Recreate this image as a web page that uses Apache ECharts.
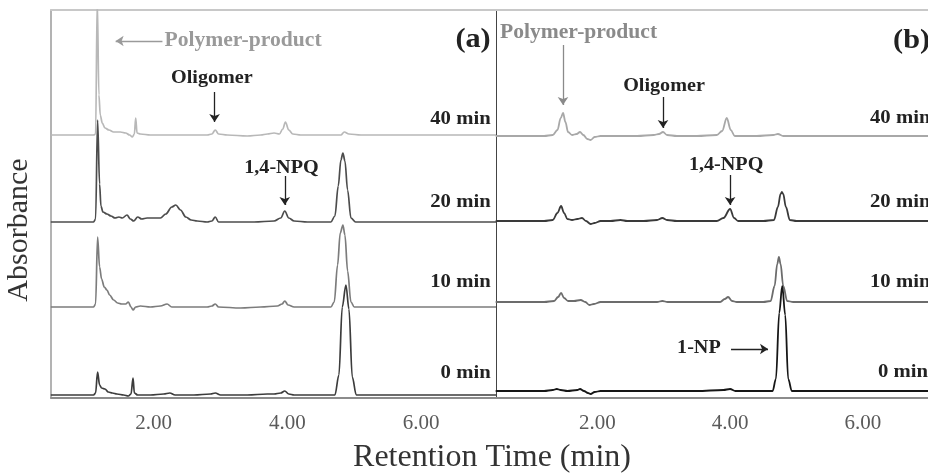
<!DOCTYPE html>
<html>
<head>
<meta charset="utf-8">
<title>HPLC chromatograms</title>
<script src="https://cdn.jsdelivr.net/npm/echarts@6.0.0/dist/echarts.min.js"></script>
<style>
  html, body { margin: 0; padding: 0; background: #fff; }
  #chart { width: 928px; height: 473px; }
</style>
</head>
<body>
<div id="chart"></div>
<script>
// sampling times, bottom trace first
const sampleTimes = ['0 min', '10 min', '20 min', '40 min'];
const tickValues = [2, 4, 6];

// vertical offset of each trace (arbitrary absorbance units)
const offsetsA = [3, 91, 176, 263];
const offsetsB = [7, 96, 177, 262];

// panel (a): [retention time (min), absorbance above own baseline]
const a0 = [[0.46,0],[0.80,0],[1.10,0],[1.13,2],[1.16,23],[1.19,10],[1.22,7],[1.27,6],[1.32,3],[1.38,2],[1.45,1],[1.55,0],[1.62,-1],[1.66,1],[1.69,17],[1.71,2],[1.76,0],[1.95,0],[2.15,1],[2.24,2],[2.32,0],[2.60,0],[2.85,1],[2.92,2],[3.00,0],[3.40,0],[3.70,1],[3.80,1],[3.90,2],[3.96,4],[4.02,1],[4.10,0],[4.50,0],[4.71,0],[4.77,20],[4.82,88],[4.875,110],[4.92,86],[4.97,18],[5.03,0],[5.20,0],[6.00,0],[7.12,0]];
const a10 = [[0.46,0],[0.80,0],[1.10,0],[1.13,3],[1.16,70],[1.19,40],[1.22,28],[1.26,20],[1.30,17],[1.34,12],[1.40,7],[1.46,4],[1.52,3],[1.58,3],[1.62,5],[1.66,0],[1.69,-3],[1.73,0],[1.80,1],[1.95,0],[2.10,1],[2.20,3],[2.27,0],[2.50,0],[2.80,0],[2.87,1],[2.92,3],[2.97,0],[3.30,-1],[3.60,0],[3.85,1],[3.92,3],[3.96,6],[4.01,2],[4.10,0],[4.40,0],[4.65,0],[4.70,5],[4.75,42],[4.79,74],[4.83,82],[4.86,72],[4.90,36],[4.95,5],[5.00,0],[5.40,0],[6.00,0],[7.12,0]];
const a20 = [[0.46,0],[0.80,0],[1.10,0],[1.13,3],[1.16,102],[1.19,38],[1.21,16],[1.24,10],[1.30,8],[1.36,6],[1.42,4],[1.48,5],[1.53,4],[1.60,7],[1.65,3],[1.70,1],[1.76,5],[1.82,3],[1.90,4],[2.00,4],[2.10,4],[2.18,8],[2.27,15],[2.33,17],[2.40,12],[2.48,5],[2.56,2],[2.65,1],[2.80,0],[2.87,1],[2.92,5],[2.97,0],[3.20,0],[3.50,0],[3.80,1],[3.90,4],[3.96,11],[4.02,4],[4.10,1],[4.30,0],[4.65,0],[4.71,6],[4.76,36],[4.80,62],[4.83,69],[4.86,61],[4.90,32],[4.95,4],[5.02,0],[5.40,0],[6.00,0],[7.12,0]];
const a40 = [[0.46,0],[0.80,0],[1.10,0],[1.13,1],[1.155,135],[1.18,40],[1.20,20],[1.23,12],[1.27,7],[1.33,5],[1.40,3],[1.50,3],[1.58,2],[1.64,0],[1.68,-2],[1.71,1],[1.73,17],[1.75,2],[1.80,1],[1.95,0],[2.20,0],[2.50,0],[2.80,0],[2.87,1],[2.92,5],[2.97,1],[3.10,0],[3.40,-1],[3.60,0],[3.70,1],[3.80,2],[3.88,1],[3.93,6],[3.97,13],[4.02,5],[4.08,1],[4.20,0],[4.50,0],[4.80,0],[4.85,3],[4.92,1],[5.10,0],[5.60,0],[6.20,0],[7.12,0]];

// panel (b)
const b0 = [[0.47,0],[0.90,0],[1.20,0],[1.33,1],[1.39,2],[1.45,1],[1.55,0],[1.70,1],[1.74,2],[1.80,0],[1.86,-2],[1.90,-3],[1.96,-1],[2.05,0],[2.50,0],[3.00,0],[3.50,0],[3.90,1],[4.00,2],[4.08,0],[4.50,0],[4.64,0],[4.69,12],[4.74,78],[4.785,105],[4.83,76],[4.875,12],[4.93,0],[5.00,0],[6.00,0],[6.98,0]];
const b10 = [[0.47,0],[0.90,0],[1.20,0],[1.35,1],[1.41,5],[1.455,9],[1.50,4],[1.56,1],[1.65,1],[1.75,2],[1.82,0],[1.88,-3],[1.95,-2],[2.05,0],[2.40,0],[2.90,0],[2.98,1],[3.06,0],[3.50,0],[3.85,0],[3.92,3],[3.97,5],[4.03,1],[4.10,0],[4.50,0],[4.61,1],[4.67,16],[4.71,38],[4.735,45],[4.76,38],[4.80,16],[4.86,1],[4.95,0],[6.00,0],[6.98,0]];
const b20 = [[0.47,0],[0.90,0],[1.20,0],[1.33,1],[1.40,8],[1.455,15],[1.50,8],[1.55,2],[1.62,1],[1.70,2],[1.77,3],[1.83,0],[1.90,-3],[1.96,-2],[2.05,0],[2.20,0],[2.35,1],[2.45,0],[2.70,0],[2.90,1],[2.98,3],[3.05,1],[3.20,0],[3.50,0],[3.80,0],[3.90,3],[4.00,12],[4.06,3],[4.12,0],[4.50,0],[4.66,1],[4.72,14],[4.76,27],[4.78,29],[4.80,27],[4.84,14],[4.90,1],[5.00,0],[6.00,0],[6.98,0]];
const b40 = [[0.47,0],[0.90,0],[1.20,0],[1.33,1],[1.40,6],[1.45,18],[1.485,23],[1.52,14],[1.56,4],[1.62,1],[1.69,2],[1.74,4],[1.79,1],[1.85,-3],[1.90,-4],[1.96,-1],[2.05,0],[2.30,0],[2.60,0],[2.85,1],[2.93,2],[2.99,4],[3.05,1],[3.20,0],[3.50,0],[3.80,1],[3.88,5],[3.95,18],[4.01,6],[4.07,0],[4.40,0],[4.65,1],[4.72,2],[4.80,0],[5.20,0],[6.00,0],[6.98,0]];

const tracesA = [a0, a10, a20, a40];
const tracesB = [b0, b10, b20, b40];

const colorsA = ['#3c3c3c', '#7c7c7c', '#4c4c4c', '#b8b8b8'];
const colorsB = ['#161616', '#6c6c6c', '#3a3a3a', '#a8a8a8'];

const serif = '"Liberation Serif", "Times New Roman", serif';

// annotations, anchored in data coordinates
const arrowsA = [
  { from: [2.13, 357], to: [1.43, 357], color: '#9a9a9a' },
  { from: [2.91, 306], to: [2.91, 276], color: '#222' },
  { from: [3.96, 222], to: [3.96, 193], color: '#222' }
];
const arrowsB = [
  { from: [1.484, 353], to: [1.484, 293], color: '#8a8a8a' },
  { from: [2.99, 301], to: [2.99, 270], color: '#222' },
  { from: [4.0, 223], to: [4.0, 193], color: '#222' },
  { from: [4.014, 49], to: [4.571, 49], color: '#222' }
];
const notesA = [
  { text: 'Polymer-product', at: [2.16, 357], align: 'left', size: 20, stretch: 1.08, color: '#9a9a9a' },
  { text: '(a)', at: [7.04, 358], align: 'right', size: 27, stretch: 1.12, color: '#222' },
  { text: 'Oligomer', at: [2.87, 320], align: 'center', size: 18, stretch: 1.12, color: '#222' },
  { text: '1,4-NPQ', at: [3.91, 230], align: 'center', size: 18, stretch: 1.12, color: '#222' },
  { text: '40 min', at: [7.04, 279], align: 'right', size: 18, stretch: 1.15, color: '#222' },
  { text: '20 min', at: [7.04, 196], align: 'right', size: 18, stretch: 1.15, color: '#222' },
  { text: '10 min', at: [7.04, 116], align: 'right', size: 18, stretch: 1.15, color: '#222' },
  { text: '0 min', at: [7.04, 25], align: 'right', size: 18, stretch: 1.15, color: '#222' }
];
const notesB = [
  { text: 'Polymer-product', at: [0.535, 365], align: 'left', size: 20, stretch: 1.08, color: '#8a8a8a' },
  { text: '(b)', at: [6.454, 357], align: 'left', size: 27, stretch: 1.12, color: '#222' },
  { text: 'Oligomer', at: [3.005, 312], align: 'center', size: 18, stretch: 1.12, color: '#222' },
  { text: '1,4-NPQ', at: [3.94, 233], align: 'center', size: 18, stretch: 1.12, color: '#222' },
  { text: '40 min', at: [6.107, 280], align: 'left', size: 18, stretch: 1.15, color: '#222' },
  { text: '20 min', at: [6.107, 196], align: 'left', size: 18, stretch: 1.15, color: '#222' },
  { text: '10 min', at: [6.107, 116], align: 'left', size: 18, stretch: 1.15, color: '#222' },
  { text: '0 min', at: [6.228, 26], align: 'left', size: 18, stretch: 1.15, color: '#222' },
  { text: '1-NP', at: [3.53, 50], align: 'center', size: 18, stretch: 1.12, color: '#222' }
];

const chart = echarts.init(document.getElementById('chart'));

function bottomAxis(grid, min, max) {
  return {
    gridIndex: grid, type: 'value', min: min, max: max, position: 'bottom',
    axisLine: { show: true, onZero: false, lineStyle: { color: '#8c8c8c', width: 2 } },
    axisTick: { show: false },
    splitLine: { show: false },
    axisLabel: {
      customValues: tickValues,
      formatter: v => v.toFixed(2),
      fontFamily: serif, fontSize: 21, color: '#5a5a5a', margin: 15
    }
  };
}
function topAxis(grid, min, max) {
  return {
    gridIndex: grid, type: 'value', min: min, max: max, position: 'top',
    axisLine: { show: true, onZero: false, lineStyle: { color: '#c8c8c8', width: 2 } },
    axisTick: { show: false }, axisLabel: { show: false }, splitLine: { show: false }
  };
}
function leftAxis(grid, color, width) {
  return {
    gridIndex: grid, type: 'value', min: 0, max: 388,
    axisLine: { show: true, onZero: false, lineStyle: { color: color, width: width } },
    axisTick: { show: false }, axisLabel: { show: false }, splitLine: { show: false }
  };
}

function arrowLines(list) {
  return {
    silent: true, symbol: ['none', 'arrow'], symbolSize: 8,
    label: { show: false }, emphasis: { disabled: true },
    data: list.map(a => [
      { coord: a.from, lineStyle: { color: a.color, width: 1.3, type: 'solid' }, itemStyle: { color: a.color } },
      { coord: a.to }
    ])
  };
}

const series = [];
[3, 2, 1, 0].forEach(i => {
  series.push({
    name: '(a) ' + sampleTimes[i], type: 'line', xAxisIndex: 0, yAxisIndex: 0,
    data: tracesA[i].map(p => [p[0], p[1] + offsetsA[i]]),
    showSymbol: false, smooth: 0.35, smoothMonotone: 'x', clip: true,
    lineStyle: { color: colorsA[i], width: 1.7 },
    markLine: i === 3 ? arrowLines(arrowsA) : undefined
  });
});
[3, 2, 1, 0].forEach(i => {
  series.push({
    name: '(b) ' + sampleTimes[i], type: 'line', xAxisIndex: 1, yAxisIndex: 1,
    data: tracesB[i].map(p => [p[0], p[1] + offsetsB[i]]),
    showSymbol: false, smooth: 0.35, smoothMonotone: 'x', clip: true,
    lineStyle: { color: colorsB[i], width: 1.8 },
    markLine: i === 3 ? arrowLines(arrowsB) : undefined
  });
});

chart.setOption({
  animation: false,
  grid: [
    { left: 51, top: 10, width: 445, height: 388, outerBoundsMode: 'none' },
    { left: 496, top: 10, width: 432, height: 388, outerBoundsMode: 'none' }
  ],
  xAxis: [
    bottomAxis(0, 0.463, 7.12),
    bottomAxis(1, 0.475, 6.98),
    topAxis(0, 0.463, 7.12),
    topAxis(1, 0.475, 6.98)
  ],
  yAxis: [leftAxis(0, '#9a9a9a', 1.5), leftAxis(1, '#444', 1)],
  series: series
});

// text notes placed through the grids' own scales
const graphics = [];
function addNotes(list, gridIndex) {
  list.forEach(n => {
    const p = chart.convertToPixel({ gridIndex: gridIndex }, n.at);
    graphics.push({
      type: 'text', x: p[0], y: p[1], scaleX: n.stretch, silent: true,
      style: {
        text: n.text, fill: n.color, align: n.align, verticalAlign: 'middle',
        font: 'bold ' + n.size + 'px ' + serif
      }
    });
  });
}
addNotes(notesA, 0);
addNotes(notesB, 1);

graphics.push({
  type: 'text', x: 19, y: 230, rotation: Math.PI / 2, silent: true,
  style: { text: 'Absorbance', fill: '#333', align: 'center', verticalAlign: 'middle', font: '30px ' + serif }
});
graphics.push({
  type: 'text', x: 492, y: 458, silent: true,
  style: { text: 'Retention Time (min)', fill: '#333', align: 'center', verticalAlign: 'middle', font: '32px ' + serif }
});

chart.setOption({ graphic: graphics });
</script>
</body>
</html>
